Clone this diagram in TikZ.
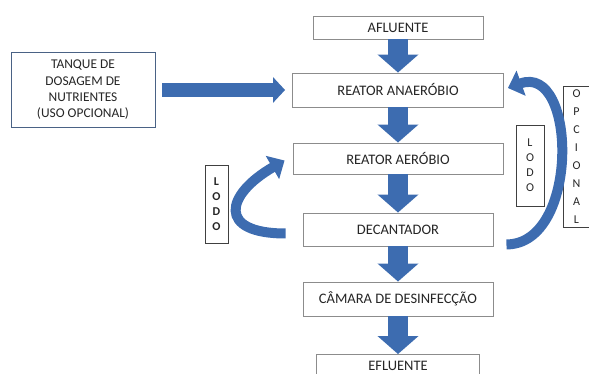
\documentclass[tikz,border=0pt]{standalone}
\usepackage{fontspec}
\setmainfont{Carlito}
\usetikzlibrary{arrows.meta,positioning,calc}
\definecolor{etblue}{HTML}{3D6CB0}
\definecolor{etgray}{HTML}{8C8C8C}
\definecolor{etslate}{HTML}{4A6285}
\definecolor{ettext}{HTML}{262626}
\tikzset{
  box/.style={draw=etgray, line width=0.9pt, fill=white, text=ettext,
    font=\fontsize{14.5}{17}\selectfont, inner sep=0pt},
  sidebox/.style={draw=black!75, line width=0.9pt, align=center, text=ettext,
    inner sep=0pt, font=\fontsize{12}{15}\selectfont},
  fatarr/.style={-{Triangle[length=18pt,width=40pt]}, line width=20pt, etblue},
  arr/.style={-{Triangle[length=12pt,width=25pt]}, line width=14pt, etblue,
    shorten <=7pt, shorten >=7pt},
  bendarr/.style={-{Triangle[length=14pt,width=26pt]}, line width=10pt, etblue},
}
\begin{document}
\begin{tikzpicture}[x=1pt, y=1pt]
    \useasboundingbox (0,0) rectangle (589,374);
    % main line
    \node[box, minimum width=170pt, minimum height=23pt] (afl) at (398,346.5) {AFLUENTE};
    \node[box, minimum width=211pt, minimum height=34pt] (anaer) at (398,284) {REATOR ANAERÓBIO};
    \node[box, minimum width=210pt, minimum height=31pt] (aer) at (398,215.5) {REATOR AERÓBIO};
    \node[box, minimum width=190pt, minimum height=33pt] (dec) at (398,144.5) {DECANTADOR};
    \node[box, minimum width=190pt, minimum height=34pt] (cam) at (398,75) {CÂMARA DE DESINFECÇÃO};
    \node[box, minimum width=163pt, minimum height=22pt] (efl) at (398,8.5) {EFLUENTE};
    % side boxes
    \node[box, draw=etslate, align=center, minimum width=144pt, minimum height=75pt,
      font=\fontsize{13.4}{16.3}\selectfont] (tanque) at (83,284)
      {TANQUE DE\\DOSAGEM DE\\NUTRIENTES\\(USO OPCIONAL)};
    \node[sidebox, font=\fontsize{12}{15}\selectfont\bfseries, minimum width=23pt,
      minimum height=78pt] (lodoL) at (216.5,170) {L\\O\\D\\O};
    \node[sidebox, minimum width=28pt, minimum height=81pt] (lodoR) at (530,208.5) {L\\O\\D\\O};
    \node[sidebox, font=\fontsize{12}{17.9}\selectfont, minimum width=27pt,
      minimum height=141pt] (opc) at (576.5,217.5) {O\\P\\C\\I\\O\\N\\A\\L};
    % flow
    \draw[fatarr] (afl) -- (anaer);
    \draw[fatarr] (anaer) -- (aer);
    \draw[fatarr] (aer) -- (dec);
    \draw[fatarr] (dec) -- (cam);
    \draw[fatarr] (cam) -- (efl);
    \draw[arr] (tanque) -- (anaer);
    % sludge return
    \draw[bendarr] ([shift={(-17,-4)}]dec.west) to[out=180, in=210, looseness=2.4]
      ([shift={(-8,-2)}]aer.west);
    \draw[bendarr] ([shift={(13,2)}]dec.south east) to[out=0, in=20, looseness=1.2]
      ([shift={(4,2)}]anaer.east);
\end{tikzpicture}
\end{document}
